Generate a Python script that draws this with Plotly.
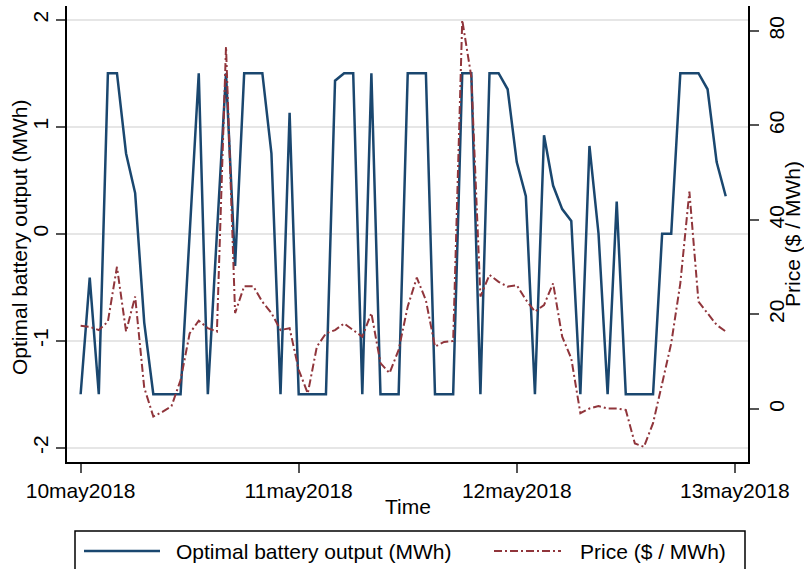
import pandas as pd
import plotly.graph_objects as go

# Hourly series, 10 May 2018 00:00 to 12 May 2018 23:00
start = "2018-05-10 00:00"
n_hours = 72

battery_mwh = [
    -1.5, -0.41, -1.5, 1.5, 1.5, 0.75, 0.38, -0.83,
    -1.5, -1.5, -1.5, -1.5, 0.0, 1.5, -1.5, 0.0,
    1.5, -0.30, 1.5, 1.5, 1.5, 0.75, -1.5, 1.13,
    -1.5, -1.5, -1.5, -1.5, 1.43, 1.5, 1.5, -1.5,
    1.5, -1.5, -1.5, -1.5, 1.5, 1.5, 1.5, -1.5,
    -1.5, -1.5, 1.5, 1.5, -1.5, 1.5, 1.5, 1.35,
    0.67, 0.35, -1.5, 0.92, 0.45, 0.23, 0.12, -1.5,
    0.82, 0.0, -1.5, 0.3, -1.5, -1.5, -1.5, -1.5,
    0.0, 0.0, 1.5, 1.5, 1.5, 1.35, 0.67, 0.35,
]

price = [
    17.6, 17.4, 16.7, 18.5, 30.1, 16.4, 23.8, 4.5,
    -1.6, -0.6, 0.6, 6.1, 16.0, 18.7, 17.1, 16.4,
    76.7, 20.3, 26.0, 26.0, 22.7, 20.3, 16.7, 17.1,
    8.3, 3.3, 13.2, 16.0, 16.7, 18.1, 16.7, 15.3,
    20.3, 9.7, 7.6, 12.5, 21.7, 27.8, 23.0, 13.2,
    14.2, 14.4, 82.3, 70.3, 23.8, 28.4, 26.9, 25.9,
    26.2, 23.1, 20.6, 22.0, 26.6, 15.3, 10.7, -0.9,
    0.1, 0.6, 0.1, 0.1, -0.2, -7.3, -8.0, -3.0,
    5.4, 13.9, 26.6, 46.0, 22.7, 20.3, 17.8, 16.4,
]

day_ticks = pd.date_range("2018-05-10", "2018-05-13", freq="D")
day_labels = [d.strftime("%d%b%Y").lower() for d in day_ticks]

left_ticks = [-2, -1, 0, 1, 2]
right_ticks = [0, 20, 40, 60, 80]

series_names = ["Optimal battery output (MWh)", "Price ($ / MWh)"]
x_title = "Time"
colors = ["#1a476f", "#90353b"]
price_dash = "8px,3px,2px,3px"

times = pd.date_range(start, periods=n_hours, freq="h")

FONT = "Liberation Sans, Arial, Helvetica, sans-serif"
FS = 21

fig = go.Figure()
fig.add_trace(go.Scatter(
    x=times, y=battery_mwh, mode="lines", name=series_names[0],
    line=dict(color=colors[0], width=2.5), yaxis="y", showlegend=False,
))
fig.add_trace(go.Scatter(
    x=times, y=price, mode="lines", name=series_names[1],
    line=dict(color=colors[1], width=2, dash=price_dash), yaxis="y2",
    showlegend=False,
))

x_lo = pd.Timestamp(start) - pd.Timedelta(minutes=90)
x_hi = pd.Timestamp(start) + pd.Timedelta(minutes=int(73.45 * 60))

axis_common = dict(
    showline=True, linecolor="black", linewidth=1.5,
    ticks="outside", ticklen=9, tickwidth=1.5, tickcolor="#555555",
    tickfont=dict(family=FONT, size=FS, color="black"),
    zeroline=False, automargin=False,
)

fig.update_layout(
    width=804, height=569,
    margin=dict(l=67, r=56, t=6, b=107),
    paper_bgcolor="white", plot_bgcolor="white",
    font=dict(family=FONT, size=FS, color="black"),
    xaxis=dict(
        **axis_common,
        range=[x_lo, x_hi],
        tickvals=day_ticks, ticktext=day_labels,
        showgrid=False,
    ),
    yaxis=dict(
        **axis_common,
        range=[-2.133, 2.128],
        tickvals=left_ticks, ticktext=[str(v) for v in left_ticks],
        tickangle=-90,
        showgrid=True, gridcolor="#e6e6e6", gridwidth=1.5,
    ),
    yaxis2=dict(
        **axis_common,
        overlaying="y", side="right",
        range=[-11.22, 85.29],
        tickvals=right_ticks, ticktext=[str(v) for v in right_ticks],
        tickangle=-90,
        showgrid=False,
        title=dict(text=series_names[1], font=dict(family=FONT, size=FS), standoff=0),
    ),
)

# Pixel-to-paper helpers for the plot area (x: 67..748, y: 6..462)
def px_x(px):
    return (px - 67) / 681.0

def px_y(py):
    return (462 - py) / 456.0

# Axis titles for the left and bottom axes
fig.add_annotation(xref="paper", yref="paper", x=px_x(19), y=px_y(238),
                   text=series_names[0], textangle=-90, showarrow=False,
                   xanchor="center", yanchor="middle",
                   font=dict(family=FONT, size=FS, color="black"))
fig.add_annotation(xref="paper", yref="paper", x=0.5, y=px_y(506),
                   text=x_title, showarrow=False,
                   xanchor="center", yanchor="middle",
                   font=dict(family=FONT, size=FS, color="black"))

# Legend box below the plot
fig.add_shape(type="rect", xref="paper", yref="paper",
              x0=px_x(75), x1=px_x(745), y0=px_y(531), y1=px_y(590),
              line=dict(color="black", width=1.5), fillcolor="white", layer="above")
legend_y = px_y(551)
fig.add_shape(type="line", xref="paper", yref="paper",
              x0=px_x(84), x1=px_x(160), y0=legend_y, y1=legend_y,
              line=dict(color=colors[0], width=2.5))
fig.add_shape(type="line", xref="paper", yref="paper",
              x0=px_x(494), x1=px_x(561), y0=legend_y, y1=legend_y,
              line=dict(color=colors[1], width=2, dash=price_dash))
fig.add_annotation(xref="paper", yref="paper", x=px_x(174), y=legend_y,
                   text=series_names[0], showarrow=False,
                   xanchor="left", yanchor="middle",
                   font=dict(family=FONT, size=FS, color="black"))
fig.add_annotation(xref="paper", yref="paper", x=px_x(578), y=legend_y,
                   text=series_names[1], showarrow=False,
                   xanchor="left", yanchor="middle",
                   font=dict(family=FONT, size=FS, color="black"))

fig.write_html("out.html")
